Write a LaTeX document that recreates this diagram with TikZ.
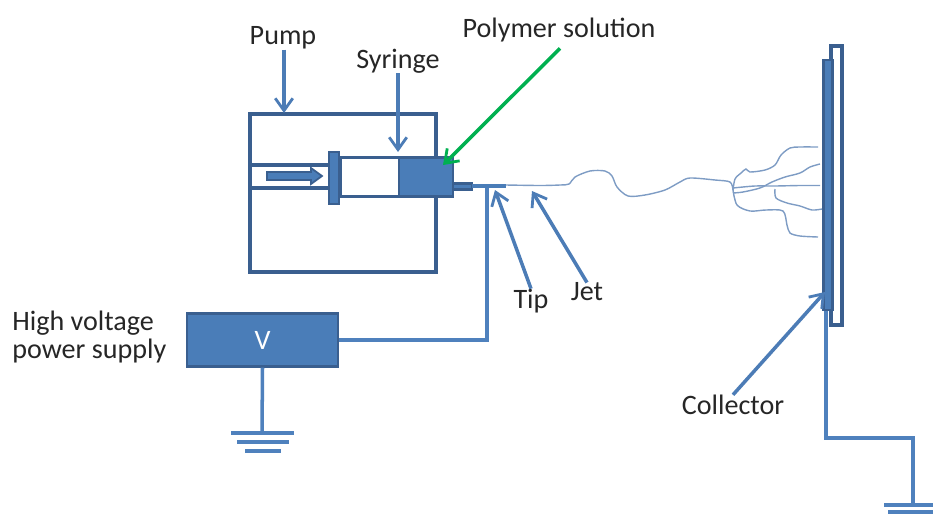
\documentclass[tikz,border=0pt]{standalone}
\usepackage{fontspec}
\setmainfont{Carlito}
\usetikzlibrary{arrows.meta}
\definecolor{linkblue}{HTML}{4F81BD}
\definecolor{edgeblue}{HTML}{3A5F8F}
\definecolor{fillblue}{HTML}{4A7DB8}
\definecolor{jetblue}{HTML}{7E9CC4}
\definecolor{arrowgreen}{HTML}{00B050}
\begin{document}
\begin{tikzpicture}[x=0.02cm,y=-0.02cm,>={Straight Barb[length=7pt,width=10pt,line width=1.6pt]},
    outline/.style={draw=edgeblue,line width=2pt,inner sep=0pt,minimum width=#1},
    solid part/.style={draw=edgeblue,fill=fillblue,line width=1.4pt,inner sep=0pt,minimum width=#1},
    tag/.style={font=\fontsize{16}{16.5}\selectfont,text=black!85,inner sep=0pt,align=left},
    pointer/.style={draw=linkblue!85!edgeblue,line width=2pt,->},
    wire/.style={draw=linkblue,line width=2pt},
    jet/.style={draw=jetblue,line width=0.8pt,smooth}]
    \useasboundingbox (0,0) rectangle (933,518);

    % pump and syringe
    \node[outline=186*0.02cm,minimum height=158*0.02cm] (pump) at (343,193) {};
    \node[outline=60*0.02cm,minimum height=39*0.02cm,fill=white] (barrel) at (370,177) {};
    \node[solid part=54*0.02cm,minimum height=39*0.02cm] (solution) at (426,177) {};
    \node[solid part=10*0.02cm,minimum height=52*0.02cm] (head) at (334,178) {};
    \node[solid part=19*0.02cm,minimum height=6*0.02cm] (needle) at (462.5,186.5) {};
    \node[solid part=34*0.02cm,minimum height=4*0.02cm,draw=none] (tip) at (489,186) {};

    \coordinate (rodtop) at (250,165);
    \coordinate (rodbot) at (250,188);
    \draw[draw=edgeblue,line width=2pt] (rodtop) -- (rodtop -| head.west);
    \draw[draw=edgeblue,line width=2pt] (rodbot) -- (rodbot -| head.west);
    \draw[fill=fillblue,draw=edgeblue,line width=1pt] (267,172) -- (311,172) -- (311,168) -- (322,176)
        -- (311,184) -- (311,180) -- (267,180) -- cycle;

    % power supply
    \node[solid part=151*0.02cm,minimum height=53*0.02cm,text=white,font=\fontsize{16}{18}\selectfont] (supply) at (262.5,340) {V};
    \coordinate (tipwire) at (487,188);
    \draw[wire] (supply.east) -- (supply.east -| tipwire) -- (tipwire);
    \coordinate (earthleft) at (262,433);
    \draw[wire] (supply.south) -- (earthleft);
    \draw[wire] (231,433) -- (294,433);
    \draw[wire] (237,442) -- (289,442);
    \draw[wire] (245,451) -- (281,451);

    % collector
    \node[outline=11*0.02cm,minimum height=279*0.02cm,fill=white] (backplate) at (836.5,185.5) {};
    \node[solid part=9*0.02cm,minimum height=250*0.02cm] (collector) at (828,185) {};
    \coordinate (corner) at (826,438);
    \coordinate (earthright) at (913,505);
    \draw[wire] (collector.south -| corner) -- (corner) -- (corner -| earthright) -- (earthright);
    \draw[wire] (884,505) -- (933,505);
    \draw[wire] (888,512) -- (933,512);

    % jet and its branches
    \coordinate (split) at (733,190);
    \draw[jet] plot coordinates {(506,185) (540,185.5) (560,185) (569,184) (575,177) (590,171) (605,171) (612,176) (617,187) (628,196) (645,195) (665,190) (680,182) (690,178) (715,180) (730,182) (733,190)};
    \draw[jet] plot coordinates {(733,190) (735,179) (741,173) (746,169) (750,172) (765,170) (775,165) (781,155) (790,148) (800,147) (818,147)};
    \draw[jet] plot coordinates {(733,193) (743,192) (760,188) (772,182) (785,177) (800,173) (810,167) (820,164)};
    \draw[jet] plot coordinates {(733,188) (755,186) (775,186) (800,185.5) (820,185.5)};
    \draw[jet] plot coordinates {(775,189) (776,198) (787,203) (800,206) (812,210) (822,209)};
    \draw[jet] plot coordinates {(733,190) (737,205) (750,211) (766,210) (783,211) (787,225) (790,233) (800,236) (818,237)};

    % labels
    \node[tag] (pumplabel) at (283,38) {Pump};
    \node[tag] (syringelabel) at (398,61) {Syringe};
    \node[tag] (polymerlabel) at (559,30) {Polymer solution};
    \node[tag] (tiplabel) at (531,301) {Tip};
    \node[tag] (jetlabel) at (587,292) {Jet};
    \node[tag] (collectorlabel) at (733,405) {Collector};
    \node[tag,anchor=west] (supplylabel) at (12,337) {High voltage\\power supply};

    \coordinate (pumpend) at (284,113);
    \coordinate (syringeend) at (398,152);
    \coordinate (polymerend) at (443,165);
    \coordinate (tipend) at (495,190);
    \coordinate (jetend) at (532,191);
    \coordinate (collectorend) at (825,292);
    \draw[pointer] (pumplabel.south -| pumpend) -- (pumpend);
    \draw[pointer] (syringelabel.south) -- (syringeend);
    \draw[pointer,draw=arrowgreen] (polymerlabel.south) ++(1,6) -- (polymerend);
    \draw[pointer] (tiplabel.north) -- (tipend);
    \draw[pointer] (jetlabel.north) -- (jetend);
    \draw[pointer] (collectorlabel.north) -- (collectorend);
\end{tikzpicture}
\end{document}
